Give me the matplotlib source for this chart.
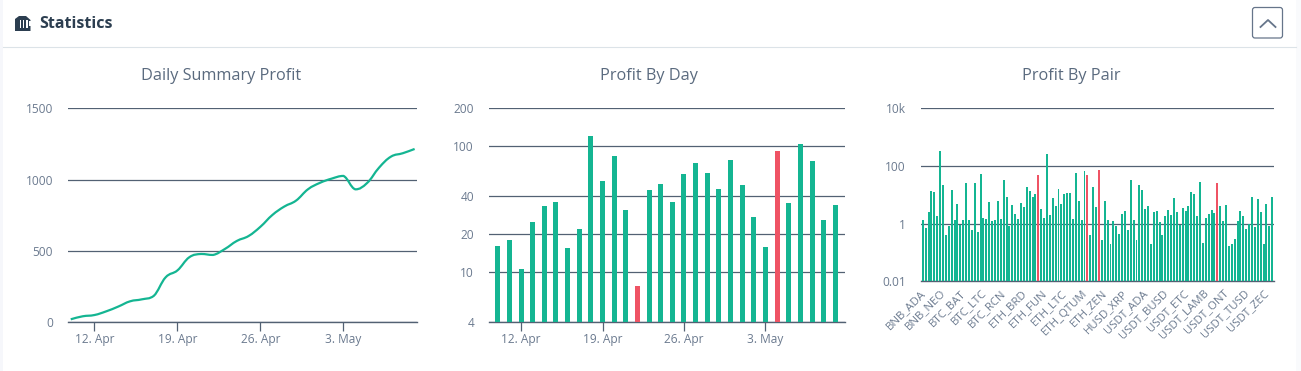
import numpy as np
import matplotlib
matplotlib.use("Agg")
import matplotlib.pyplot as plt
from matplotlib.path import Path
from matplotlib.patches import PathPatch, FancyBboxPatch, Polygon, Rectangle
from matplotlib.transforms import ScaledTranslation

W, H = 1301, 371
GREEN = "#14b592"
RED = "#ef5364"
GRID = "#526173"
TEXT = "#6b7a8f"
TITLE = "#5a6a7e"
DARK = "#2c3e50"

plt.rcParams["font.family"] = "Open Sans"

# cumulative profit per day, 10 Apr to 9 May
summary_profit = [21, 42, 51, 77, 110, 147, 161, 185, 315, 364,
                  456, 479, 472, 514, 570, 605, 670, 752, 811, 853,
                  932, 977, 1007, 1026, 932, 977, 1084, 1161, 1185, 1215]

# negative means a loss, drawn red with its absolute size
day_profit = [16.1, 18.0, 10.6, 25.0, 33.5, 36.1, 15.6, 22.0, 120.5, 53.0,
              83.6, 31.2, -7.77, 44.9, 50.1, 36.1, 60.2, 73.6, 61.2, 45.7,
              77.7, 49.2, 27.4, 15.9, -91.6, 35.4, 104, 76.3, 26.0, 34.1]

pair_profit = [1.31, .689, 2.47, 13.2, 12.2, 1.80, 323, 21.4, .394, .808,
               14.3, 1.31, 4.68, .875, 1.31, 25.0, 1.31, .587, 25.0, .50,
               51.4, 1.53, 1.41, 5.5, 1.2, 1.31, 5.95, 1.41, 31.8, 8.19,
               .808, 4.32, 2.11, 1.41, 5.07, 3.68, 18.2, 13.2, 8.19, 10.4,
               -47.5, 3.14, 1.53, 254, 1.95, 7.56, 3.99, 15.5, 4.68, 10.4,
               11.3, 11.3, 1.41,
               55.7, 5.95, 1.31, 65.3, -47.5, .394, 18.2, 3.68, -70.7, .264,
               5.95, 1.31, .192, 1.2, .808, .427, 2.11, 2.68, .587, 31.8,
               1.31, .264, 21.4, 14.3, 3.14, 3.99, .192, 2.47, 2.68, 1.11,
               .394, 1.8, 2.9, 1.95, 7.56, 2.47, .875, 3.4, 2.68, 3.99,
               12.2, 10.4, 1.8, 27.1, .208, 1.53, 2.11, 2.9, 2.28, -25,
               3.99, 1.2, 4.32, .164, .192, .286, 1.2, 2.68, 1.8, .636,
               .948, 8.19, .746, 6.98, 2.47, .192, 4.68, .808, 8.19]

date_ticks = [2, 9, 16, 23]
date_labels = ["12. Apr", "19. Apr", "26. Apr", "3. May"]

pair_ticks = list(range(0, 120, 7))
pair_labels = ["BNB_ADA", "BNB_NEO", "BTC_BAT", "BTC_LTC", "BTC_RCN", "ETH_BRD",
               "ETH_FUN", "ETH_LTC", "ETH_QTUM", "ETH_ZEN", "HUSD_XRP", "USDT_ADA",
               "USDT_BUSD", "USDT_ETC", "USDT_LAMB", "USDT_ONT", "USDT_TUSD", "USDT_ZEC"]

fig = plt.figure(figsize=(W / 100, H / 100), dpi=100, facecolor="white")


def make_axes(x0, x1, y_top, y_bottom):
    ax = fig.add_axes([x0 / W, 1 - y_bottom / H, (x1 - x0) / W, (y_bottom - y_top) / H])
    for side in ["top", "left", "right"]:
        ax.spines[side].set_visible(False)
    ax.spines["bottom"].set_color(GRID)
    ax.spines["bottom"].set_linewidth(1.0)
    ax.set_axisbelow(True)
    ax.grid(axis="y", color=GRID, linewidth=0.9)
    ax.tick_params(axis="y", which="both", length=0, pad=10.8, labelsize=8.6, labelcolor=TEXT)
    ax.tick_params(axis="y", which="minor", left=False)
    ax.tick_params(axis="x", length=6.5, width=0.9, color=GRID, pad=1.5, labelsize=8.6, labelcolor=TEXT)
    ax.patch.set_alpha(0)
    return ax


def spline_path(xs, ys):
    # smooth curve through the points, control points kept inside each segment's range
    xs = np.asarray(xs, dtype=float)
    ys = np.asarray(ys, dtype=float)
    slope = np.gradient(ys, xs)
    verts = [(xs[0], ys[0])]
    codes = [Path.MOVETO]
    for i in range(len(xs) - 1):
        d = (xs[i + 1] - xs[i]) * 0.4
        low, high = min(ys[i], ys[i + 1]), max(ys[i], ys[i + 1])
        verts += [(xs[i] + d, np.clip(ys[i] + slope[i] * d, low, high)),
                  (xs[i + 1] - d, np.clip(ys[i + 1] - slope[i + 1] * d, low, high)),
                  (xs[i + 1], ys[i + 1])]
        codes += [Path.CURVE4] * 3
    return Path(verts, codes)


# left chart
ax1 = make_axes(68, 417, 108.3, 322.3)
days = np.arange(len(summary_profit))
ax1.add_patch(PathPatch(spline_path(days, summary_profit), fill=False,
                        edgecolor=GREEN, linewidth=1.6, zorder=3))
ax1.set_xlim(-0.23, 29.2)
ax1.set_ylim(0, 1500)
ax1.set_yticks([0, 500, 1000, 1500])
ax1.set_xticks(date_ticks)
ax1.set_xticklabels(date_labels)

# middle chart
ax2 = make_axes(489, 845, 108.3, 322.3)
day_colors = [RED if v < 0 else GREEN for v in day_profit]
ax2.bar(np.arange(len(day_profit)), np.abs(day_profit), width=0.43, color=day_colors, zorder=3)
ax2.set_yscale("log")
ax2.set_xlim(-0.75, 29.83)
ax2.set_ylim(4, 200)
ax2.set_yticks([4, 10, 20, 40, 100, 200])
ax2.set_yticklabels(["4", "10", "20", "40", "100", "200"])
ax2.minorticks_off()
ax2.set_xticks(date_ticks)
ax2.set_xticklabels(date_labels)

# right chart
ax3 = make_axes(921, 1274, 108.3, 281.3)
pair_colors = [RED if v < 0 else GREEN for v in pair_profit]
ax3.bar(np.arange(len(pair_profit)), np.abs(pair_profit), width=0.69, color=pair_colors, zorder=3)
ax3.set_yscale("log")
ax3.set_xlim(-0.6, 121.6)
ax3.set_ylim(0.01, 10000)
ax3.set_yticks([0.01, 1, 100, 10000])
ax3.set_yticklabels(["0.01", "1", "100", "10k"])
ax3.minorticks_off()
ax3.set_xticks(pair_ticks)
ax3.set_xticklabels(pair_labels, rotation=45, ha="right", rotation_mode="anchor")
ax3.tick_params(axis="x", length=0, pad=4.5, labelsize=8.2)
for label in ax3.get_xticklabels():
    label.set_transform(label.get_transform() + ScaledTranslation(-0.03, 0, fig.dpi_scale_trans))

# page parts, drawn in pixel coordinates
page = fig.add_axes([0, 0, 1, 1], zorder=-1)
page.set_xlim(0, W)
page.set_ylim(H, 0)
page.axis("off")
page.add_patch(Rectangle((0, 0), 3, H, color="#f6f7fb", linewidth=0))
page.add_patch(Rectangle((1296, 0), 5, H, color="#f9fafc", linewidth=0))
page.plot([3, 1296], [46.5, 46.5], color="#dce3e8", linewidth=0.8)

page.text(39, 23.5, "Statistics", fontsize=11.5, fontweight="bold", color=DARK, va="center", ha="left")
page.text(221, 76.5, "Daily Summary Profit", fontsize=11.7, color=TITLE, va="center", ha="center")
page.text(649, 76.5, "Profit By Day", fontsize=11.7, color=TITLE, va="center", ha="center")
page.text(1071, 76.5, "Profit By Pair", fontsize=11.7, color=TITLE, va="center", ha="center")

# header icon
page.add_patch(Polygon([(15, 31), (15, 19), (19, 16), (26, 16), (30.5, 20), (30.5, 31)],
                       closed=True, color=DARK, linewidth=0))
for bar_x in [19.5, 22.7, 25.9]:
    page.add_patch(Rectangle((bar_x, 19.5), 1.6, 8.5, color="white", linewidth=0))
page.add_patch(Rectangle((29, 21), 1.6, 5, color="white", linewidth=0))

# collapse button
page.add_patch(FancyBboxPatch((1252.5, 7.5), 30, 30.5, boxstyle="round,pad=0,rounding_size=2.5",
                              facecolor="white", edgecolor="#66758a", linewidth=0.9))
page.plot([1260.5, 1268, 1275.5], [27, 20, 27], color="#66758a", linewidth=1.3)

fig.savefig("out.png", dpi=100)
